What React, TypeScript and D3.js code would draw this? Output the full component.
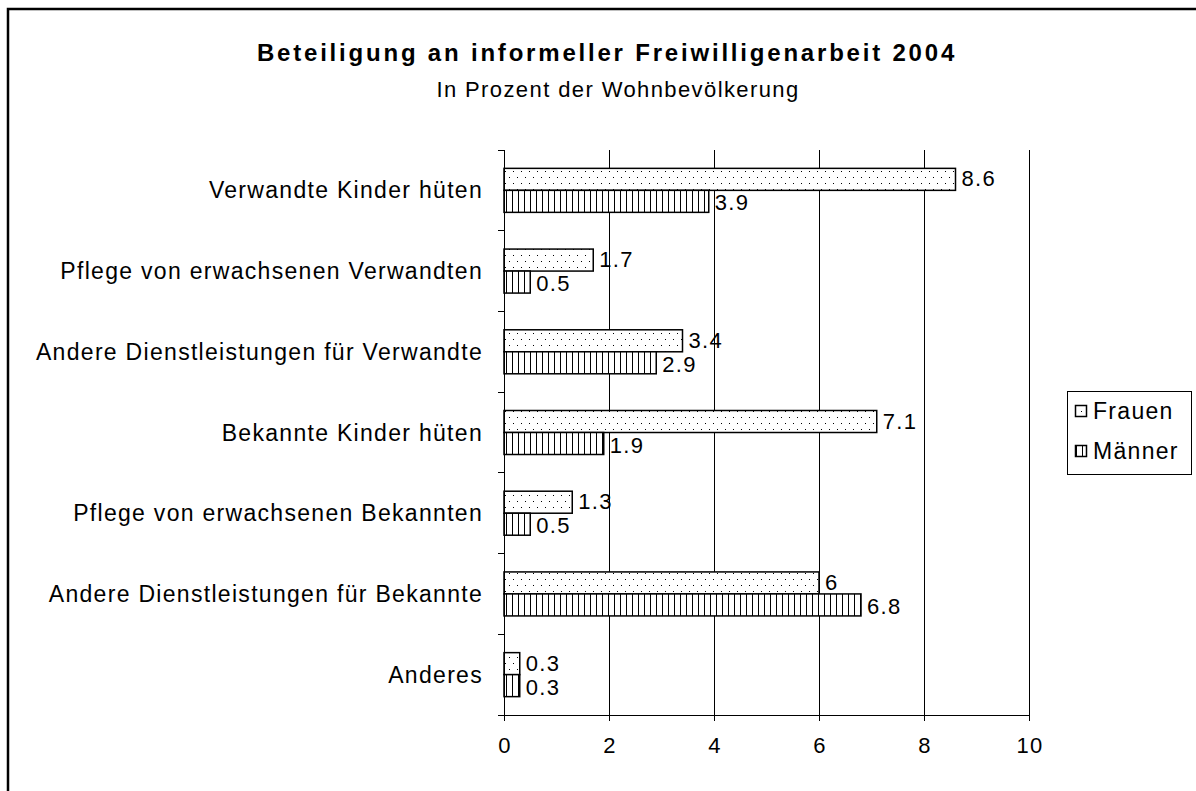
import * as d3 from 'd3'
import { useEffect, useRef } from 'react'

const categories = [
  'Verwandte Kinder hüten',
  'Pflege von erwachsenen Verwandten',
  'Andere Dienstleistungen für Verwandte',
  'Bekannte Kinder hüten',
  'Pflege von erwachsenen Bekannten',
  'Andere Dienstleistungen für Bekannte',
  'Anderes',
]
const frauen = [8.6, 1.7, 3.4, 7.1, 1.3, 6, 0.3]
const maenner = [3.9, 0.5, 2.9, 1.9, 0.5, 6.8, 0.3]
const seriesNames = ['Frauen', 'Männer']
const xTicks = [0, 2, 4, 6, 8, 10]

const App = () => {
  const svgRef = useRef<SVGSVGElement>(null)

  const width = 1196
  const height = 791
  const marginTop = 150
  const marginBottom = 76
  const marginLeft = 504
  const plotRight = 1029
  const font = '"Liberation Sans", Arial, sans-serif'
  const fs = 23
  const ls = 1.3

  useEffect(() => {
    const svg = d3.select(svgRef.current)
    svg.selectAll('*').remove()

    // muster
    const defs = svg.append('defs')
    const dots = defs.append('pattern').attr('id', 'dots').attr('patternUnits', 'userSpaceOnUse')
      .attr('width', 8).attr('height', 12)
    dots.append('rect').attr('width', 8).attr('height', 12).attr('fill', '#fff')
    dots.append('rect').attr('x', 1).attr('y', 3).attr('width', 1).attr('height', 1).attr('fill', '#000')
    dots.append('rect').attr('x', 5).attr('y', 9).attr('width', 1).attr('height', 1).attr('fill', '#000')
    const vlines = defs.append('pattern').attr('id', 'vlines').attr('patternUnits', 'userSpaceOnUse')
      .attr('width', 6).attr('height', 6)
    vlines.append('rect').attr('width', 6).attr('height', 6).attr('fill', '#fff')
    vlines.append('rect').attr('x', 2).attr('width', 1).attr('height', 6).attr('fill', '#000')

    svg.append('rect').attr('width', width).attr('height', height).attr('fill', '#fff')
    svg.append('rect').attr('x', 8).attr('y', 9).attr('width', 1220).attr('height', 820)
      .attr('fill', 'none').attr('stroke', '#000').attr('stroke-width', 2.5)

    const x = d3.scaleLinear().domain([0, 10]).range([marginLeft, plotRight])
    const y = d3.scaleBand().domain(categories).range([marginTop, height - marginBottom])
    const inner = d3.scaleBand().domain(seriesNames).range([0, 44])

    const g = svg.append('g')
    // gitter
    g.selectAll('.grid').data(xTicks.slice(1)).join('line')
      .attr('x1', (d) => x(d)).attr('x2', (d) => x(d))
      .attr('y1', marginTop).attr('y2', height - marginBottom)
      .attr('stroke', '#000').attr('stroke-width', 1).attr('shape-rendering', 'crispEdges')

    // balken
    const series = [frauen, maenner]
    series.forEach((vals, si) => {
      const name = seriesNames[si]
      const fill = si === 0 ? 'url(#dots)' : 'url(#vlines)'
      const yOf = (i: number) => y(categories[i])! + (y.bandwidth() - 44) / 2 + inner(name)!
      g.selectAll('.bar' + si).data(vals).join('rect')
        .attr('x', x(0)).attr('y', (_d, i) => yOf(i))
        .attr('width', (d) => x(d) - x(0)).attr('height', inner.bandwidth())
        .attr('fill', fill).attr('stroke', '#000').attr('stroke-width', 1.5)
      g.selectAll('.lab' + si).data(vals).join('text')
        .attr('x', (d) => x(d) + 6)
        .attr('y', (_d, i) => yOf(i) + inner.bandwidth() / 2 + (si === 0 ? 7 : 9))
        .attr('font-family', font).attr('font-size', 22).attr('letter-spacing', ls).text((d) => String(d))
    })

    // achsen
    const yAxis = g.append('g').attr('transform', `translate(${marginLeft},0)`)
    yAxis.append('line').attr('x1', 0).attr('x2', 0).attr('y1', marginTop).attr('y2', height - marginBottom)
      .attr('stroke', '#000').attr('shape-rendering', 'crispEdges')
    const bounds = d3.range(categories.length + 1).map((i) => marginTop + i * y.step())
    yAxis.selectAll('.tick').data(bounds).join('line')
      .attr('x1', -6).attr('x2', 0).attr('y1', (d) => d).attr('y2', (d) => d)
      .attr('stroke', '#000').attr('shape-rendering', 'crispEdges')
    yAxis.selectAll('.cl').data(categories).join('text')
      .attr('x', -21).attr('y', (d) => y(d)! + y.bandwidth() / 2 + 8)
      .attr('text-anchor', 'end').attr('font-family', font).attr('font-size', fs)
      .attr('letter-spacing', ls).text((d) => d)

    const xAxis = g.append('g').attr('transform', `translate(0,${height - marginBottom})`)
    xAxis.append('line').attr('x1', marginLeft).attr('x2', plotRight).attr('stroke', '#000')
      .attr('shape-rendering', 'crispEdges')
    xAxis.selectAll('.t').data(xTicks).join('line')
      .attr('x1', (d) => x(d)).attr('x2', (d) => x(d)).attr('y1', 0).attr('y2', 6)
      .attr('stroke', '#000').attr('shape-rendering', 'crispEdges')
    xAxis.selectAll('.tl').data(xTicks).join('text')
      .attr('x', (d) => x(d) + 1).attr('y', 38).attr('text-anchor', 'middle')
      .attr('font-family', font).attr('font-size', 22).attr('letter-spacing', ls).text((d) => String(d))

    // titel
    svg.append('text').attr('x', 607).attr('y', 61).attr('text-anchor', 'middle')
      .attr('font-family', font).attr('font-size', 24).attr('font-weight', 'bold')
      .attr('letter-spacing', 2.8).text('Beteiligung an informeller Freiwilligenarbeit 2004')
    svg.append('text').attr('x', 618).attr('y', 97).attr('text-anchor', 'middle')
      .attr('font-family', font).attr('font-size', 22).attr('letter-spacing', 1.4)
      .text('In Prozent der Wohnbevölkerung')

    // legende
    const leg = svg.append('g')
    leg.append('rect').attr('x', 1067.5).attr('y', 391.5).attr('width', 124).attr('height', 83)
      .attr('fill', '#fff').attr('stroke', '#000').attr('stroke-width', 1)
    seriesNames.forEach((name, i) => {
      const cy = 411 + i * 40
      leg.append('rect').attr('x', 1075.5).attr('y', cy - 5.5).attr('width', 11).attr('height', 11)
        .attr('fill', i === 0 ? 'url(#dots)' : 'url(#vlines)').attr('stroke', '#000').attr('stroke-width', 1.5)
      leg.append('text').attr('x', 1093).attr('y', cy + 8).attr('font-family', font).attr('font-size', fs)
        .attr('letter-spacing', ls).text(name)
    })
  }, [])

  return (
    <svg ref={svgRef} width={width} height={height} style={{ position: 'absolute', left: 0, top: 0 }}></svg>
  )
}

export default App
